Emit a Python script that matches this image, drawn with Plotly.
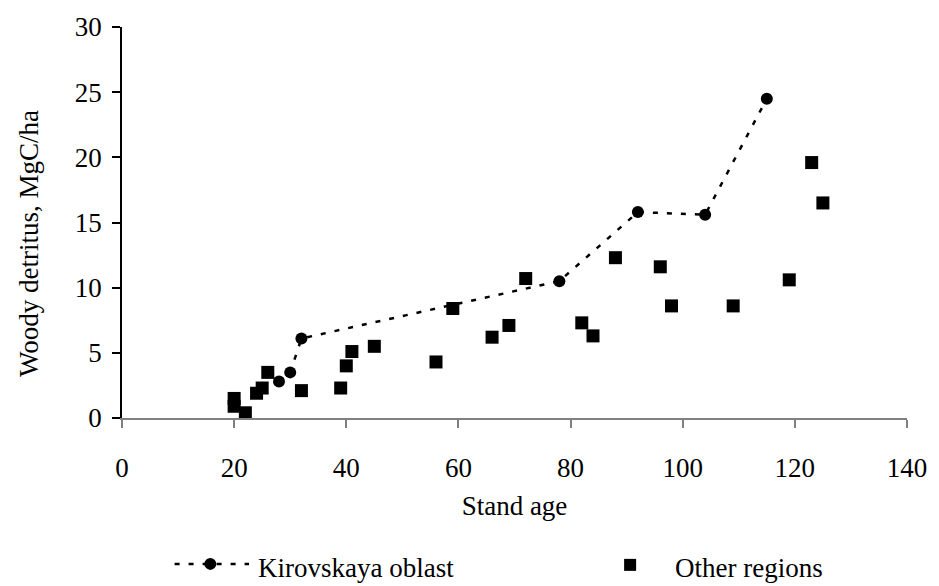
import plotly.graph_objects as go

# Woody detritus (MgC/ha) by stand age
kirov_age = [28, 30, 32, 78, 92, 104, 115]
kirov_detritus = [2.8, 3.5, 6.1, 10.5, 15.8, 15.6, 24.5]

other_age = [20, 20, 22, 24, 25, 26, 32, 39, 40, 41, 45, 56, 59, 66, 69, 72,
             82, 84, 88, 96, 98, 109, 119, 123, 125]
other_detritus = [1.5, 0.9, 0.4, 1.9, 2.3, 3.5, 2.1, 2.3, 4.0, 5.1, 5.5, 4.3,
                  8.4, 6.2, 7.1, 10.7, 7.3, 6.3, 12.3, 11.6, 8.6, 8.6, 10.6,
                  19.6, 16.5]

x_ticks = [0, 20, 40, 60, 80, 100, 120, 140]
y_ticks = [0, 5, 10, 15, 20, 25, 30]

FONT = "Liberation Serif, Times New Roman, serif"
W, H = 939, 586
ML, MR, MT, MB = 122, 26, 24, 168
PW, PH = W - ML - MR, H - MT - MB


def px_x(px):
    return (px - ML) / PW


def px_y(py):
    return (H - MB - py) / PH


fig = go.Figure()
fig.add_trace(go.Scatter(
    x=kirov_age, y=kirov_detritus, mode="lines+markers",
    name="Kirovskaya oblast",
    line=dict(color="black", width=2.5, dash="5px,9px"),
    marker=dict(symbol="circle", size=12, color="black"),
    showlegend=False,
))
fig.add_trace(go.Scatter(
    x=other_age, y=other_detritus, mode="markers",
    name="Other regions",
    marker=dict(symbol="square", size=13, color="black"),
    showlegend=False,
))

# legend drawn below the plot
ly = px_y(565)
fig.add_shape(type="line", xref="paper", yref="paper",
              x0=px_x(175), x1=px_x(250), y0=ly, y1=ly,
              line=dict(color="black", width=2.5, dash="5px,9px"))
fig.add_shape(type="circle", xref="paper", yref="paper",
              xsizemode="pixel", ysizemode="pixel",
              xanchor=px_x(211), yanchor=ly,
              x0=-6, x1=6, y0=-6, y1=6,
              fillcolor="black", line=dict(width=0))
fig.add_shape(type="rect", xref="paper", yref="paper",
              xsizemode="pixel", ysizemode="pixel",
              xanchor=px_x(634), yanchor=px_y(566),
              x0=-6, x1=6, y0=-6, y1=6,
              fillcolor="black", line=dict(width=0))
fig.add_annotation(text="Kirovskaya oblast", xref="paper", yref="paper",
                   x=px_x(257), y=px_y(569), xanchor="left", yanchor="middle",
                   showarrow=False, font=dict(family=FONT, size=27, color="black"))
fig.add_annotation(text="Other regions", xref="paper", yref="paper",
                   x=px_x(677), y=px_y(569), xanchor="left", yanchor="middle",
                   showarrow=False, font=dict(family=FONT, size=27, color="black"))

# y-axis title
fig.add_annotation(text="Woody detritus, MgC/ha", xref="paper", yref="paper",
                   x=px_x(29), y=px_y(242), xanchor="center", yanchor="middle",
                   textangle=-90, showarrow=False,
                   font=dict(family=FONT, size=27, color="black"))

fig.update_layout(
    width=W, height=H,
    margin=dict(l=ML, r=MR, t=MT, b=MB),
    paper_bgcolor="white", plot_bgcolor="white",
    font=dict(family=FONT, size=27, color="black"),
    xaxis=dict(
        range=[0, 140], tickvals=x_ticks, ticktext=[str(v) for v in x_ticks],
        showgrid=False, zeroline=False, showline=True,
        linecolor="#808080", linewidth=1.5,
        ticks="outside", ticklen=8, tickcolor="#808080", tickwidth=1.5,
        ticklabelstandoff=17,
        title=dict(text="Stand age", standoff=14,
                   font=dict(family=FONT, size=27, color="black")),
    ),
    yaxis=dict(
        range=[0, 30], tickvals=y_ticks, ticktext=[str(v) for v in y_ticks],
        showgrid=False, zeroline=False, showline=True,
        linecolor="black", linewidth=1.5,
        ticks="outside", ticklen=8, tickcolor="black", tickwidth=1.5,
        ticklabelstandoff=5,
    ),
)

fig.write_html("out.html")
